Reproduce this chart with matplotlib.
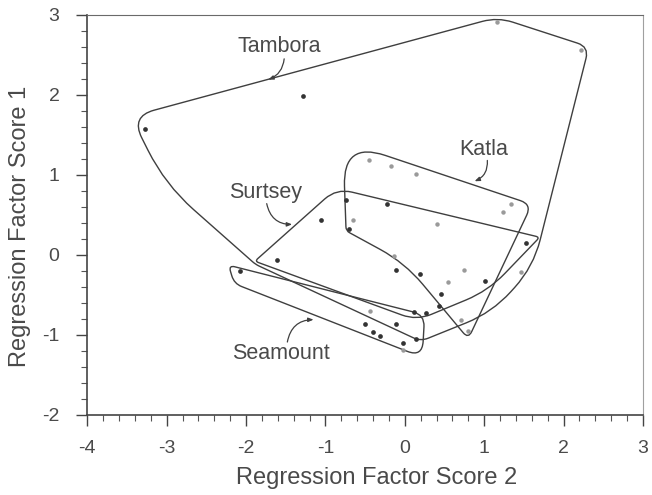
import numpy as np
import matplotlib.pyplot as plt
from matplotlib.path import Path
from matplotlib.patches import PathPatch
from matplotlib.ticker import MultipleLocator

plt.rcParams['font.family'] = ['Liberation Sans', 'DejaVu Sans']
plt.rcParams['axes.unicode_minus'] = False

# sample scores (factor 2, factor 1)
dark_x = [-3.27, -1.28, -0.74, -0.23, -0.70, -1.06, 1.53, -0.11, 0.19, 1.01, 0.45, 0.43,
          0.27, 0.11, -0.11, 0.14, -0.02, -1.61, -2.08, -0.50, -0.40, -0.31]
dark_y = [1.57, 1.99, 0.69, 0.64, 0.32, 0.44, 0.15, -0.19, -0.24, -0.33, -0.49, -0.64,
          -0.73, -0.72, -0.86, -1.05, -1.10, -0.06, -0.20, -0.87, -0.96, -1.01]
light_x = [1.16, 2.22, -0.45, -0.17, 0.14, 1.34, 1.24, 0.40, -0.65, -0.14, 0.74, 0.55,
           1.46, 0.71, 0.80, -0.02, -0.44]
light_y = [2.91, 2.56, 1.19, 1.11, 1.01, 0.63, 0.54, 0.39, 0.44, -0.02, -0.19, -0.34,
           -0.22, -0.82, -0.95, -1.19, -0.70]

# hand-drawn group envelopes (corner vertices)
tambora_x = [-3.45, 1.17, 2.32, 1.62, 1.10, 0.20, -1.88, -3.02]
tambora_y = [1.73, 2.97, 2.60, -0.15, -0.72, -1.08, -0.12, 0.88]
surtsey_x = [-1.89, -0.86, 1.70, 1.05, 0.15]
surtsey_y = [-0.08, 0.83, 0.22, -0.45, -0.82]
katla_x = [-0.74, -0.78, 1.60, 0.80, 0.00]
katla_y = [0.30, 1.42, 0.63, -1.05, -0.10]
seamount_x = [-2.22, 0.25, 0.22, -2.15]
seamount_y = [-0.13, -0.75, -1.28, -0.36]

groups = ['Tambora', 'Katla', 'Surtsey', 'Seamount']
label_x = [-1.58, 0.99, -1.75, -1.56]
label_y = [2.61, 1.32, 0.78, -1.23]
leader_from = [(-1.52, 2.45), (1.04, 1.18), (-1.74, 0.64), (-1.48, -1.09)]
leader_to = [(-1.72, 2.19), (0.88, 0.92), (-1.42, 0.38), (-1.15, -0.81)]
leader_rad = [-0.3, -0.35, 0.4, -0.4]


def rounded_path(xs, ys, radii):
    pts = np.column_stack([xs, ys]).astype(float)
    n = len(pts)
    verts, codes = [], []
    for i in range(n):
        p, a, b = pts[i], pts[i - 1], pts[(i + 1) % n]
        da, db = a - p, b - p
        la, lb = np.hypot(*da), np.hypot(*db)
        r = min(radii[i], la / 2, lb / 2)
        verts.append(p + da / la * r)
        codes.append(Path.MOVETO if i == 0 else Path.LINETO)
        verts += [p, p + db / lb * r]
        codes += [Path.CURVE3, Path.CURVE3]
    verts.append(verts[0])
    codes.append(Path.LINETO)
    return Path(verts, codes)


fig = plt.figure(figsize=(6.52, 4.95), dpi=100)
ax = fig.add_axes([0.134, 0.162, 0.852, 0.808])

line_col = '#3f3f3f'
txt_col = '#4a4a4a'

outlines = [
    (tambora_x, tambora_y, [0.3, 0.2, 0.15, 0.35, 0.35, 0.1, 0.05, 0.55]),
    (surtsey_x, surtsey_y, [0.05, 0.2, 0.05, 0.3, 0.2]),
    (katla_x, katla_y, [0.05, 0.7, 0.15, 0.1, 0.35]),
    (seamount_x, seamount_y, [0.08, 0.15, 0.2, 0.1]),
]
for xs, ys, rr in outlines:
    ax.add_patch(PathPatch(rounded_path(xs, ys, rr), fill=False,
                           edgecolor=line_col, lw=1.0))

ax.plot(light_x, light_y, 'o', ms=3.2, color='#9a9a9a', mec='none')
ax.plot(dark_x, dark_y, 'o', ms=3.4, color='#333333', mec='none')

for name, lx, ly, p0, p1, rad in zip(groups, label_x, label_y, leader_from, leader_to, leader_rad):
    ax.text(lx, ly, name, ha='center', va='center', fontsize=15.5, color=txt_col)
    ax.annotate('', xy=p1, xytext=p0,
                arrowprops=dict(arrowstyle='-|>,head_length=0.3,head_width=0.12',
                                connectionstyle=f'arc3,rad={rad}',
                                color=line_col, lw=0.9, shrinkA=0, shrinkB=0))

ax.set_xlim(-4, 3)
ax.set_ylim(-2, 3)
ax.xaxis.set_major_locator(MultipleLocator(1))
ax.xaxis.set_minor_locator(MultipleLocator(0.2))
ax.yaxis.set_major_locator(MultipleLocator(1))
ax.yaxis.set_minor_locator(MultipleLocator(0.2))
ax.tick_params(which='major', direction='out', length=8, width=1.0, color='#444444',
               labelsize=14, labelcolor=txt_col)
ax.tick_params(axis='x', which='major', pad=10)
ax.tick_params(axis='y', which='major', pad=12)
ax.tick_params(which='minor', direction='out', length=4, width=0.8, color='#555555')

for side in ['left', 'bottom']:
    ax.spines[side].set_color('#444444')
    ax.spines[side].set_linewidth(1.2)
ax.spines['top'].set_color('#6a6a6a')
ax.spines['right'].set_color('#a0a0a0')

ax.set_xlabel('Regression Factor Score 2', fontsize=17, color=txt_col)
ax.set_ylabel('Regression Factor Score 1', fontsize=17, color=txt_col)
ax.xaxis.set_label_coords(0.52, -0.13)
ax.yaxis.set_label_coords(-0.102, 0.47)

fig.savefig('out.png', dpi=100)
